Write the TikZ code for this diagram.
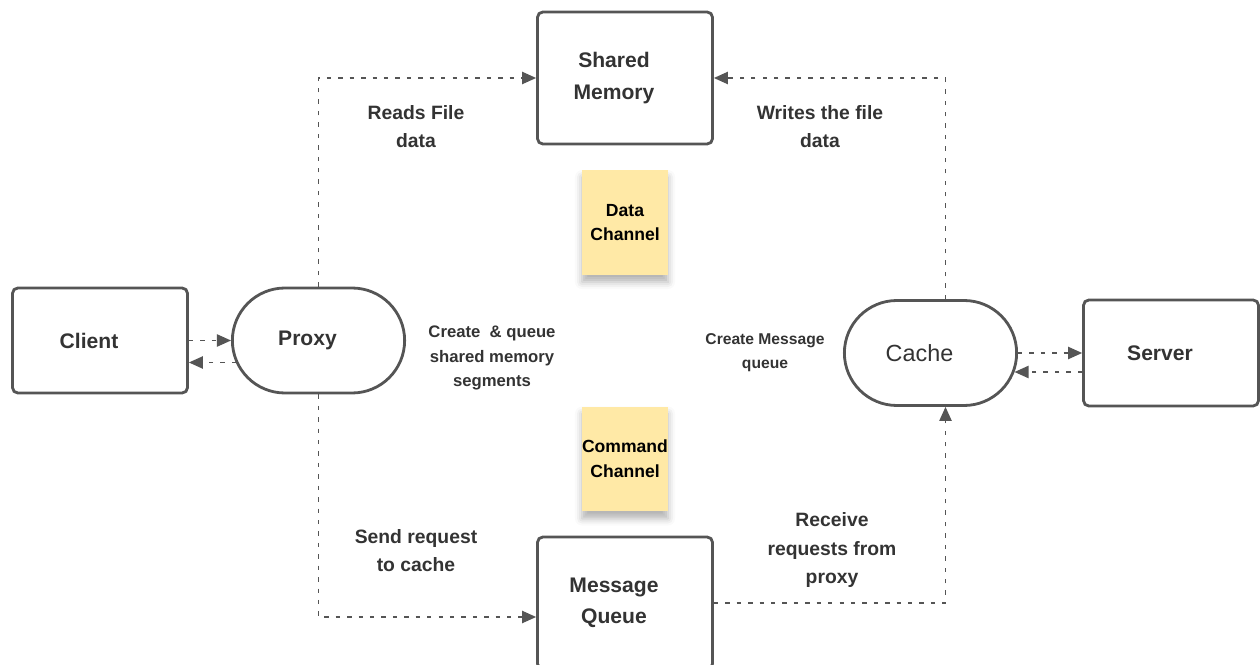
\documentclass[tikz,border=0pt]{standalone}
\usepackage{fontspec}
\setmainfont{Liberation Sans}
\usetikzlibrary{arrows.meta,shapes.misc,shadows.blur}
\definecolor{edgegray}{HTML}{555555}
\definecolor{textgray}{HTML}{333333}
\definecolor{notey}{HTML}{FFE9A6}
% text sits a little left of the box centre
\newcommand{\offl}[1]{#1\hspace*{0.44cm}}

\begin{document}
\begin{tikzpicture}[x=0.02cm, y=-0.02cm,
    box/.style={draw=edgegray, line width=1.6pt, rounded corners=3pt, minimum width=3.5cm, align=center, text=textgray, font=\fontsize{12}{18}\selectfont\bfseries},
    pill/.style={draw=edgegray, line width=1.6pt, rounded rectangle, minimum width=3.68cm, minimum height=2.1cm, align=center, text=textgray},
    note/.style={fill=notey, inner xsep=0pt, minimum width=1.72cm, minimum height=2.1cm, align=center, font=\fontsize{10}{14}\selectfont\bfseries,
        blur shadow={shadow xshift=0pt, shadow yshift=-4pt, shadow blur radius=4pt, shadow opacity=30}},
    lbl/.style={align=center, text=textgray, font=\fontsize{11}{16}\selectfont\bfseries},
    flow/.style={draw=edgegray, line width=0.85pt, dash pattern=on 2.5pt off 4pt, -{Triangle[length=8pt,width=7pt]}}]
    \useasboundingbox (0,0) rectangle (1260,665);
    \clip (0,0) rectangle (1260,665);

    % boxes
    \node [box, minimum height=2.1cm] (client) at (100,340.5) {\offl{Client}};
    \node [pill, font=\fontsize{12}{18}\selectfont\bfseries] (proxy) at (318.5,340.5) {\offl{Proxy}};
    \node [box, minimum height=2.64cm] (shm) at (625,78) {\offl{Shared}\\\offl{Memory}};
    \node [box, minimum height=2.64cm] (mq) at (625,603) {\offl{Message}\\\offl{Queue}};
    \node [pill, font=\fontsize{13.3}{16}\selectfont] (cache) at (930.5,353) {\offl{Cache}};
    \node [box, minimum height=2.12cm] (server) at (1171,353) {\offl{Server}};

    % sticky notes
    \node [note] (datach) at (625,222.5) {Data\\Channel};
    \node [note] (cmdch) at (625,459) {Command\\Channel};

    % labels
    \node [lbl] (reads) at (416,127) {Reads File\\data};
    \node [lbl] (writes) at (820,127) {Writes the file\\data};
    \node [lbl, font=\fontsize{9.5}{14}\selectfont\bfseries] (mkshm) at (492,358) {Create~ \& queue\\shared memory\\segments};
    \node [lbl, font=\fontsize{8.9}{13.6}\selectfont\bfseries] (mkmq) at (765,353) {Create Message\\queue};
    \node [lbl] (send) at (416,551) {Send request\\to cache};
    \node [lbl] (recv) at (832,550) {Receive\\requests from\\proxy};

    % connectors
    \draw[flow] (client.east) -- (proxy.west);
    \draw[flow] ([shift={(0.1cm,-0.44cm)}]proxy.west) -- ([yshift=-0.44cm]client.east);
    \draw[flow] (cache.east) -- (server.west);
    \draw[flow] ([yshift=-0.38cm]server.west) -- ([shift={(-0.07cm,-0.38cm)}]cache.east);
    \draw[flow] (proxy.north) |- (shm.west);
    \draw[flow] ([xshift=0.3cm]cache.north) |- (shm.east);
    \draw[flow] (proxy.south) |- ([yshift=-0.28cm]mq.west);
    \draw[flow] (mq.east) -| ([xshift=0.3cm]cache.south);
\end{tikzpicture}
\end{document}
